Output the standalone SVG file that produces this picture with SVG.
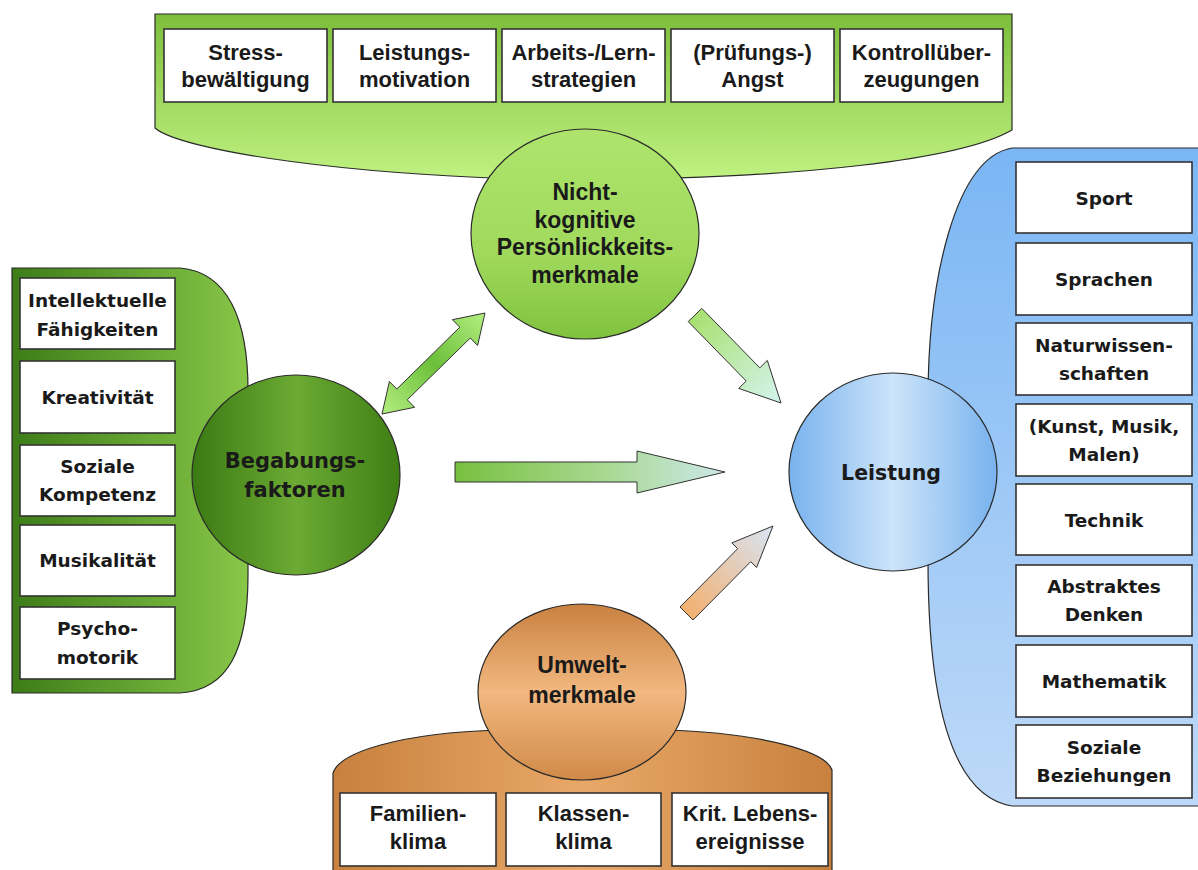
<svg xmlns="http://www.w3.org/2000/svg" width="1198" height="870" viewBox="0 0 1198 870">
<style>
.panel{stroke:#2a2a2a;stroke-width:1.2}
.box{fill:#ffffff;stroke:#333333;stroke-width:1.6}
.node{stroke:#2a2a2a;stroke-width:1.2}
.arrow{stroke:#333333;stroke-width:1}
.ta{font-family:"Liberation Sans",Arial,sans-serif;font-weight:bold;font-size:22px;fill:#1a1a1a;text-anchor:middle}
.tv{font-family:"DejaVu Sans",Verdana,sans-serif;font-weight:bold;font-size:18.5px;fill:#1a1a1a;text-anchor:middle}
.tc{font-family:"DejaVu Sans",Verdana,sans-serif;font-weight:bold;font-size:21px;fill:#1a1a1a;text-anchor:middle}
.tn{font-family:"Liberation Sans",Arial,sans-serif;font-weight:bold;font-size:23px;fill:#1a1a1a;text-anchor:middle}
</style>
<defs>
<linearGradient id="gTop" x1="0" y1="0" x2="0" y2="1"><stop offset="0" stop-color="#7dbe3b"/><stop offset="1" stop-color="#c0f282"/></linearGradient>
<linearGradient id="gNicht" x1="0" y1="0" x2="0" y2="1"><stop offset="0" stop-color="#aee46c"/><stop offset="0.6" stop-color="#a0d95c"/><stop offset="1" stop-color="#80c23e"/></linearGradient>
<linearGradient id="gLeft" x1="0" y1="0" x2="1" y2="0"><stop offset="0" stop-color="#3d7d18"/><stop offset="1" stop-color="#88c748"/></linearGradient>
<linearGradient id="gBeg" x1="0" y1="0" x2="1" y2="0"><stop offset="0" stop-color="#3a7a12"/><stop offset="0.5" stop-color="#6caa34"/><stop offset="1" stop-color="#3e7e14"/></linearGradient>
<linearGradient id="gRight" x1="0" y1="0" x2="0" y2="1"><stop offset="0" stop-color="#7ab6f4"/><stop offset="1" stop-color="#bed9f8"/></linearGradient>
<linearGradient id="gLeis" x1="0" y1="0" x2="1" y2="0"><stop offset="0" stop-color="#78b2ee"/><stop offset="0.5" stop-color="#cce4fa"/><stop offset="1" stop-color="#78b2ee"/></linearGradient>
<linearGradient id="gUm" x1="0" y1="0" x2="0" y2="1"><stop offset="0" stop-color="#c98140"/><stop offset="0.5" stop-color="#f2b880"/><stop offset="1" stop-color="#d08a48"/></linearGradient>
<linearGradient id="gBot" x1="0" y1="0" x2="1" y2="0"><stop offset="0" stop-color="#c8813e"/><stop offset="0.5" stop-color="#e8a868"/><stop offset="1" stop-color="#c8813e"/></linearGradient>
<linearGradient id="gA1" gradientUnits="userSpaceOnUse" x1="382" y1="414" x2="485" y2="313"><stop offset="0" stop-color="#b4ee80"/><stop offset="0.5" stop-color="#6cbf3a"/><stop offset="1" stop-color="#b4ee80"/></linearGradient>
<linearGradient id="gA2" gradientUnits="userSpaceOnUse" x1="695" y1="315" x2="781" y2="403"><stop offset="0" stop-color="#a8e070"/><stop offset="1" stop-color="#d4f4ee"/></linearGradient>
<linearGradient id="gA3" gradientUnits="userSpaceOnUse" x1="455" y1="0" x2="725" y2="0"><stop offset="0" stop-color="#78c040"/><stop offset="0.55" stop-color="#a8d890"/><stop offset="1" stop-color="#cce8ea"/></linearGradient>
<linearGradient id="gA4" gradientUnits="userSpaceOnUse" x1="686" y1="613" x2="773" y2="526"><stop offset="0" stop-color="#f2b070"/><stop offset="1" stop-color="#d8e4f4"/></linearGradient>
</defs>

<g id="connectors">
<polygon class="arrow" fill="url(#gA1)" points="485,313 477.6,345.5 470.3,338 407.3,399.8 414.6,407.3 382,414 389.4,381.5 396.8,389 459.8,327.2 452.4,319.7"/>
<polygon class="arrow" fill="url(#gA2)" points="688.2,321.6 746.2,381 738.7,388.4 781,403 767.3,360.4 759.8,367.8 701.8,308.4"/>
<polygon class="arrow" fill="url(#gA3)" points="455,462 637,462 637,451 725,472 637,493 637,482 455,482"/>
<polygon class="arrow" fill="url(#gA4)" points="680,607 737.7,548.7 731.8,542.9 773,526 756.6,567.5 750.7,561.7 693,620"/>
</g>

<g id="top-group">
<path class="panel" fill="url(#gTop)" d="M155,14 L1012,14 L1012,130 C960,160 800,178 585,180 C350,178 180,150 155,128 Z"/>
<rect class="box" x="164" y="29" width="163" height="73"/>
<rect class="box" x="333" y="29" width="163" height="73"/>
<rect class="box" x="502" y="29" width="163" height="73"/>
<rect class="box" x="671" y="29" width="163" height="73"/>
<rect class="box" x="840" y="29" width="163" height="73"/>
<text class="ta"><tspan x="245.5" y="60">Stress-</tspan><tspan x="245.5" y="87">bewältigung</tspan></text>
<text class="ta"><tspan x="414.5" y="60">Leistungs-</tspan><tspan x="414.5" y="87">motivation</tspan></text>
<text class="ta"><tspan x="583.5" y="60">Arbeits-/Lern-</tspan><tspan x="583.5" y="87">strategien</tspan></text>
<text class="ta"><tspan x="752.5" y="60">(Prüfungs-)</tspan><tspan x="752.5" y="87">Angst</tspan></text>
<text class="ta"><tspan x="921.5" y="60">Kontrollüber-</tspan><tspan x="921.5" y="87">zeugungen</tspan></text>
</g>

<g id="node-nicht">
<ellipse class="node" fill="url(#gNicht)" cx="585" cy="234" rx="114" ry="105"/>
<text class="tn"><tspan x="585" y="200">Nicht-</tspan><tspan x="585" y="227.5">kognitive</tspan><tspan x="585" y="255">Persönlickkeits-</tspan><tspan x="585" y="282.5">merkmale</tspan></text>
</g>

<g id="left-group">
<path class="panel" fill="url(#gLeft)" d="M12,268 L180,268 C228,272 248,320 248,390 L248,575 C248,650 228,690 180,693 L12,693 Z"/>
<rect class="box" x="20" y="278" width="155" height="71"/>
<rect class="box" x="20" y="361" width="155" height="72"/>
<rect class="box" x="20" y="445" width="155" height="71"/>
<rect class="box" x="20" y="525" width="155" height="71"/>
<rect class="box" x="20" y="607" width="155" height="72"/>
<text class="tv"><tspan x="97.5" y="307">Intellektuelle</tspan><tspan x="97.5" y="336">Fähigkeiten</tspan></text>
<text class="tv" x="97.5" y="404">Kreativität</text>
<text class="tv"><tspan x="97.5" y="473">Soziale</tspan><tspan x="97.5" y="501">Kompetenz</tspan></text>
<text class="tv" x="97.5" y="567">Musikalität</text>
<text class="tv"><tspan x="97.5" y="635">Psycho-</tspan><tspan x="97.5" y="664">motorik</tspan></text>
</g>

<g id="node-begabung">
<ellipse class="node" fill="url(#gBeg)" cx="296" cy="475" rx="104" ry="100"/>
<text class="tc"><tspan x="295" y="468">Begabungs-</tspan><tspan x="295" y="497">faktoren</tspan></text>
</g>

<g id="right-group">
<path class="panel" fill="url(#gRight)" d="M1199,148 L1012,148 C955,158 928,280 928,400 L928,560 C928,680 945,795 1012,806 L1199,806 Z"/>
<rect class="box" x="1016" y="162" width="176" height="71"/>
<rect class="box" x="1016" y="243" width="176" height="72"/>
<rect class="box" x="1016" y="323" width="176" height="72"/>
<rect class="box" x="1016" y="404" width="176" height="72"/>
<rect class="box" x="1016" y="484" width="176" height="71"/>
<rect class="box" x="1016" y="565" width="176" height="71"/>
<rect class="box" x="1016" y="645" width="176" height="72"/>
<rect class="box" x="1016" y="725" width="176" height="73"/>
<text class="tv" x="1104" y="205">Sport</text>
<text class="tv" x="1104" y="286">Sprachen</text>
<text class="tv"><tspan x="1104" y="352">Naturwissen-</tspan><tspan x="1104" y="380">schaften</tspan></text>
<text class="tv"><tspan x="1104" y="433">(Kunst, Musik,</tspan><tspan x="1104" y="461">Malen)</tspan></text>
<text class="tv" x="1104" y="527">Technik</text>
<text class="tv"><tspan x="1104" y="593">Abstraktes</tspan><tspan x="1104" y="621">Denken</tspan></text>
<text class="tv" x="1104" y="688">Mathematik</text>
<text class="tv"><tspan x="1104" y="754">Soziale</tspan><tspan x="1104" y="782">Beziehungen</tspan></text>
</g>

<g id="node-leistung">
<ellipse class="node" fill="url(#gLeis)" cx="893" cy="472" rx="104" ry="99"/>
<text class="tc" style="font-size:20.5px" x="891" y="480">Leistung</text>
</g>

<g id="bottom-group">
<path class="panel" fill="url(#gBot)" d="M333,871 L333,773 C340,752 400,733 500,730 L665,730 C765,733 826,752 832,770 L832,871 Z"/>
<rect class="box" x="340" y="793" width="156" height="73"/>
<rect class="box" x="506" y="793" width="155" height="73"/>
<rect class="box" x="672" y="793" width="156" height="73"/>
<text class="ta"><tspan x="418" y="821">Familien-</tspan><tspan x="418" y="849">klima</tspan></text>
<text class="ta"><tspan x="583.5" y="821">Klassen-</tspan><tspan x="583.5" y="849">klima</tspan></text>
<text class="ta"><tspan x="750" y="821">Krit. Lebens-</tspan><tspan x="750" y="849">ereignisse</tspan></text>
</g>

<g id="node-umwelt">
<ellipse class="node" fill="url(#gUm)" cx="582" cy="692" rx="104" ry="88"/>
<text class="tn"><tspan x="582" y="673">Umwelt-</tspan><tspan x="582" y="703">merkmale</tspan></text>
</g>
</svg>
